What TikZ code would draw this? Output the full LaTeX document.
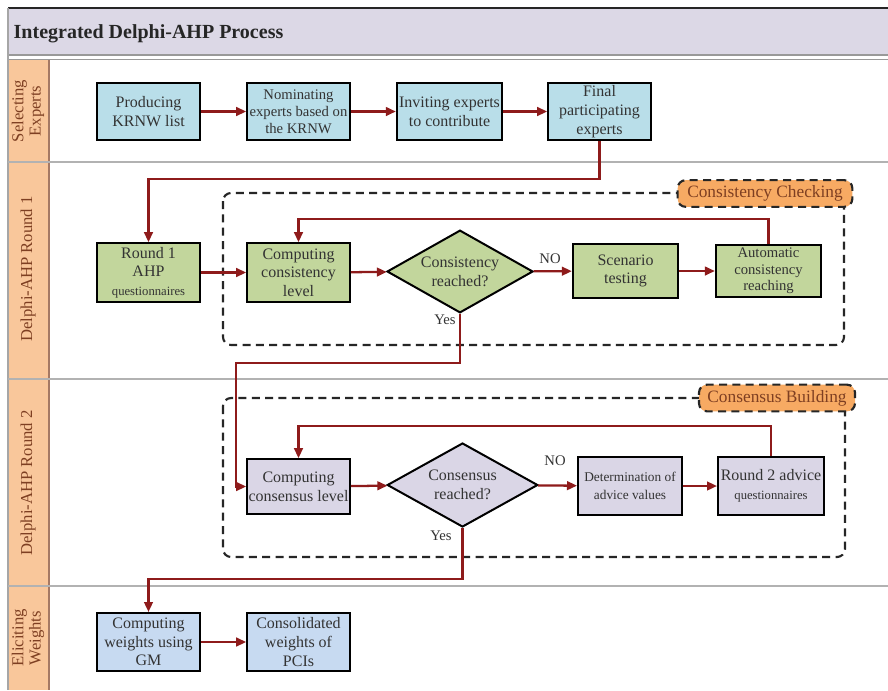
\documentclass[tikz,border=0pt]{standalone}
\usepackage{fontspec}
\setmainfont{Liberation Serif}
\usetikzlibrary{shapes.geometric,arrows.meta}

\definecolor{arrowred}{HTML}{8E1B1B}
\definecolor{titleband}{HTML}{DCD8E6}
\definecolor{lanefill}{HTML}{F9C79B}
\definecolor{lanetextc}{HTML}{7E3F22}
\definecolor{tagfill}{HTML}{F7AA63}
\definecolor{expblue}{HTML}{B9DEE9}
\definecolor{rndgreen}{HTML}{C2D69C}
\definecolor{rndlav}{HTML}{DAD6E6}
\definecolor{wgtblue}{HTML}{C7DAF1}

\begin{document}
\begin{tikzpicture}[x=0.75pt,y=-0.75pt,
  box/.style={draw=black,line width=1.5pt,align=center,inner sep=1pt,text=black!80,
    font=\fontsize{12}{14}\selectfont,minimum width=77pt,minimum height=43pt},
  dia/.style={diamond,draw=black,line width=1.5pt,align=center,inner sep=0pt,text=black!80,
    font=\fontsize{12}{14}\selectfont,aspect=1.75},
  flow/.style={draw=arrowred,line width=1.7pt,-{Triangle[length=7.5pt,width=6.5pt]}},
  groupbox/.style={draw=black!85,line width=1.6pt,dash pattern=on 6pt off 4pt,rounded corners=6pt},
  tag/.style={groupbox,fill=tagfill,text=lanetextc,font=\fontsize{13}{15}\selectfont,
    minimum width=131pt,minimum height=20pt,inner sep=1pt},
  lanetext/.style={rotate=90,align=center,text=lanetextc,font=\fontsize{12.5}{13}\selectfont},
  answer/.style={text=black!80,font=\fontsize{11}{13}\selectfont}]
\useasboundingbox (0,0) rectangle (888,690);
% frame, title band and lanes
\fill[white] (0,0) rectangle (888,690);
\fill[titleband] (8,8) rectangle (888,55);
\fill[lanefill] (8,60) rectangle (49,690);
\draw[line width=1.5pt,black!85] (8,8) -- (888,8);
\draw[black!40,line width=1pt] (8,55) -- (888,55);
\draw[black!40,line width=1pt] (8,59.5) -- (888,59.5);
\draw[black!35,line width=1pt] (8,8) -- (8,690);
\draw[lanetextc!70,line width=0.8pt] (49,60) -- (49,690);
\draw[black!30,line width=1pt] (8,162) -- (888,162);
\draw[black!30,line width=1pt] (8,379) -- (888,379);
\draw[black!30,line width=1pt] (8,586) -- (888,586);
\node[anchor=west,font=\bfseries\fontsize{15}{17}\selectfont,text=black!85] (title) at (9,34) {Integrated Delphi-AHP Process};
\node[lanetext] (lane1) at (28,111) {Selecting\\Experts};
\node[lanetext] (lane2) at (28,269) {Delphi-AHP Round 1};
\node[lanetext] (lane3) at (28,483) {Delphi-AHP Round 2};
\node[lanetext] (lane4) at (28,638) {Eliciting\\Weights};
% group frames
\draw[groupbox] (223,193) rectangle (844,345);
\node[tag] (chk) at (765,193.5) {Consistency Checking};
\draw[groupbox] (223,398) rectangle (845,557);
\node[tag,minimum width=117pt] (cns) at (777,398) {Consensus Building};
% selecting experts
\node[box,fill=expblue] (p1) at (148.5,111.5) {Producing\\KRNW list};
\node[box,fill=expblue,font=\fontsize{11}{12.8}\selectfont] (p2) at (298.5,111.5) {Nominating\\experts based on\\the KRNW};
\node[box,fill=expblue,minimum width=79pt] (p3) at (449.5,111.5) {Inviting experts\\to contribute};
\node[box,fill=expblue] (p4) at (599.5,111.5) {Final\\participating\\experts};
% round 1
\node[box,fill=rndgreen,minimum height=44pt] (r1) at (148.5,272.5) {Round 1\\AHP\\{\fontsize{9.5}{11}\selectfont questionnaires}};
\node[box,fill=rndgreen,minimum height=44pt] (c1) at (298.5,272.5) {Computing\\consistency\\level};
\node[dia,fill=rndgreen,minimum width=109.5pt,minimum height=62pt] (d1) at (460,271.5) {Consistency\\reached?};
\node[box,fill=rndgreen,minimum width=79pt,minimum height=40.5pt] (s1) at (625.5,271) {Scenario\\testing};
\node[box,fill=rndgreen,minimum width=79pt,minimum height=39pt,font=\fontsize{11}{12.5}\selectfont] (a1) at (768.5,271) {Automatic\\consistency\\reaching};
% round 2
\node[box,fill=rndlav,minimum height=41pt] (k1) at (298.5,486.5) {Computing\\consensus level};
\node[dia,fill=rndlav,minimum width=113pt,minimum height=63pt] (d2) at (462.5,485) {Consensus\\reached?};
\node[box,fill=rndlav,minimum width=78pt,minimum height=43.5pt,font=\fontsize{10}{13}\selectfont] (v1) at (630,486) {Determination of\\advice values};
\node[box,fill=rndlav,minimum width=79.5pt,minimum height=43.5pt] (q2) at (771,486) {Round 2 advice\\{\fontsize{9.5}{11}\selectfont questionnaires}};
% eliciting weights
\node[box,fill=wgtblue,minimum height=43.5pt] (w1) at (148.5,642) {Computing\\weights using\\GM};
\node[box,fill=wgtblue,minimum height=43.5pt] (w2) at (298.5,642) {Consolidated\\weights of\\PCIs};
% answers
\node[answer] (no1) at (550,259) {NO};
\node[answer] (yes1) at (445,320) {Yes};
\node[answer] (no2) at (555,461) {NO};
\node[answer] (yes2) at (441,536) {Yes};
% connectors
\draw[flow] (p1) -- (p2);
\draw[flow] (p2) -- (p3);
\draw[flow] (p3) -- (p4);
\draw[flow] (p4.south) -- ++(0,38) -| (r1.north);
\draw[flow] (r1) -- (c1);
\draw[flow] (c1) -- (d1);
\draw[flow] (d1) -- (s1);
\draw[flow] (s1) -- (a1);
\draw[flow] (a1.north) -- ++(0,-25) -| (c1.north);
\draw[flow] (d1.south) -- ++(0,49) -| ([xshift=-7.5pt]k1.west) -- (k1.west);
\draw[flow] (k1) -- (d2);
\draw[flow] (d2) -- (v1);
\draw[flow] (v1) -- (q2);
\draw[flow] (q2.north) -- ++(0,-30) -| (k1.north);
\draw[flow] (d2.south) -- ++(0,51) -| (w1.north);
\draw[flow] (w1) -- (w2);
\end{tikzpicture}
\end{document}
